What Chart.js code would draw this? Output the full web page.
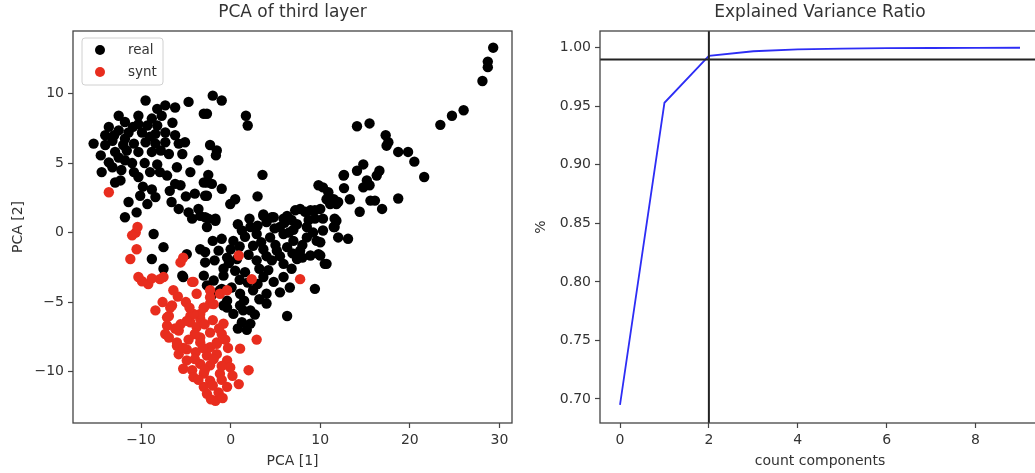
<!DOCTYPE html>
<html>
<head>
<meta charset="utf-8">
<script src="https://cdn.jsdelivr.net/npm/chart.js@4"></script>
<style>
  html, body { margin: 0; padding: 0; background: #fff; overflow: hidden; }
  #wrap { position: relative; width: 1035px; height: 473px; overflow: hidden; }
  canvas { position: absolute; top: 0; }
</style>
</head>
<body>
<div id="wrap">
  <canvas id="pcaCanvas" width="520" height="473" style="left:0"></canvas>
  <canvas id="varCanvas" width="530" height="473" style="left:520px"></canvas>
</div>
<script>
// ---------------------------------------------------------------
// data
// ---------------------------------------------------------------
var realPoints = [
  // right arm
  [29.3,13.3],[28.7,12.3],[28.7,11.9],[28.1,10.9],[26.0,8.8],[24.7,8.4],[23.4,7.75],[14.1,7.65],[15.5,7.85],
  [17.3,7.0],[17.6,6.5],[17.4,6.25],[18.7,5.8],[19.8,5.8],[20.5,5.1],[21.6,4.0],[18.7,2.45],[14.8,4.9],
  [14.1,4.45],[12.65,4.15],[16.6,4.45],[16.3,4.1],[15.2,3.75],[14.8,3.25],[15.5,3.4],[12.65,3.2],[13.3,2.4],
  [15.6,2.3],[16.1,2.3],[16.9,1.7],[14.4,1.5],[10.3,3.25],[10.9,2.9],[10.7,2.4],[11.5,2.4],[12.0,2.2],
  [10.3,1.0],[11.6,1.0],[11.6,0.4],[10.0,1.7],[9.8,3.4],[12.6,4.1],[11.1,2.05],[11.8,0.85],[12.0,-0.35],
  [13.1,-0.45],[10.0,-1.65],[10.7,-2.25],
  // upper middle
  [-2.0,9.85],[-1.0,9.5],[-2.65,8.55],[1.7,8.4],[1.9,7.7],[-2.3,6.3],[-1.55,5.9],[-1.65,5.55],[3.55,4.15],
  [-2.5,4.15],[-2.65,3.6],[-2.1,3.5],[-1.0,3.15],[3.0,2.6],[0.5,2.4],[-0.05,2.05],[-2.85,2.65],[-2.85,1.1],
  [-1.7,1.0],[3.65,1.3],[4.6,1.1],[7.2,1.6],[8.3,1.5],[9.4,1.6],[5.9,1.0],
  // upper left cluster
  [-9.5,9.5],[-8.2,8.9],[-7.3,9.15],[-6.2,9.0],[-4.7,9.4],[-3.0,8.55],[-12.5,8.4],[-10.3,8.4],[-8.8,8.2],
  [-7.7,8.4],[-11.8,7.95],[-10.3,7.8],[-8.2,7.7],[-13.6,7.6],[-12.5,7.35],[-11.4,7.2],[-9.9,7.2],[-8.4,7.1],
  [-7.3,7.2],[-6.2,7.0],[-14.0,7.0],[-15.3,6.4],[-13.2,6.6],[-11.8,6.75],[-10.8,6.4],[-9.5,6.5],[-8.4,6.4],
  [-7.3,6.5],[-5.8,6.4],[-5.1,6.5],[-14.5,5.55],[-12.9,5.8],[-11.6,5.9],[-10.3,5.8],[-8.8,5.8],[-6.9,5.65],
  [-5.4,5.65],[-13.6,5.05],[-12.5,5.4],[-11.8,5.2],[-14.4,4.35],[-13.2,4.7],[-10.8,4.35],[-10.3,4.0],
  [-9.0,4.35],[-7.9,4.35],[-7.1,4.1],[-6.2,3.5],[-4.5,4.35],[-3.6,5.2],[-3.0,3.6],[-5.6,3.4],[-12.9,3.6],
  [-12.3,3.75],[-11.4,2.2],[-10.1,2.65],[-9.3,2.05],[-8.4,2.55],[-11.8,1.1],[-10.5,1.45],[-6.6,2.2],
  [-5.8,1.7],[-4.7,1.45],[-3.6,1.7],[-2.65,2.65],[-4.3,1.0],[-2.5,1.0],
  [-13.0,7.0],[-12.0,6.3],[-10.9,7.6],[-9.3,7.7],[-9.0,6.9],[-7.8,5.9],[-6.5,7.9],[-11.0,5.0],[-9.6,5.0],
  [-8.2,4.9],[-6.0,4.7],[-14.0,6.3],[-12.2,4.5],[-6.8,3.0],[-5.0,2.6],[-4.0,2.8],[-9.8,3.3],[-8.8,3.1],
  // centre
  [-3.4,1.2],[-2.65,0.4],[-1.7,0.85],[3.65,1.2],[4.8,1.1],[6.3,1.2],[7.75,1.7],[8.9,1.6],[9.4,1.0],
  [10.9,2.4],[11.8,2.05],[7.4,0.6],[8.5,0.4],[10.3,0.15],[11.5,0.4],[5.5,0.4],[4.0,0.75],[1.25,0.15],
  [2.9,-0.1],[4.4,-0.35],[5.9,-0.1],[7.0,-0.6],[8.5,-0.35],[9.6,-0.6],[-1.0,-0.45],[0.3,-0.6],[2.5,-0.95],
  [3.65,-1.2],[5.15,-1.3],[6.3,-1.05],[7.75,-1.3],[8.9,-1.65],[9.8,-1.55],[10.5,-2.25],[-2.85,-1.4],
  [-1.35,-1.3],[-0.4,-1.8],[2.9,-2.0],[4.6,-2.0],[5.9,-2.25],[7.4,-1.9],[-0.8,-2.6],[0.5,-2.75],[1.6,-2.85],
  [3.65,-3.2],[4.8,-3.55],[5.9,-3.2],[9.4,-4.05],[-3.0,-3.1],[-1.9,-3.45],[0.1,-3.95],[1.05,-4.4],
  [2.5,-4.15],[4.0,-4.4],[5.5,-4.3],[6.6,-3.95],[-1.2,-4.15],[-0.4,-4.9],[1.05,-5.25],[2.2,-5.6],[4.0,-5.1],
  [6.3,-6.0],[0.3,-5.85],[1.25,-6.45],[2.2,-6.55],[-0.4,-5.4],[1.4,-5.6],[-0.8,-3.1],[-5.4,-3.1],
  [1.0,-1.0],[2.0,-1.6],[3.2,-2.6],[6.8,-2.6],[8.0,-0.9],[6.5,0.0],[3.0,0.5],[0.8,0.6],[2.1,1.0],
  [5.0,-0.9],[4.2,-2.7],[1.0,-3.4],
  [0.0,-1.2],[1.6,-0.3],[2.2,0.4],[3.4,-0.7],[4.9,0.3],[6.0,0.7],[7.0,0.2],[8.0,-1.8],[9.2,0.0],
  [10.0,-0.7],[6.9,-1.5],[5.5,-1.7],[4.0,-1.7],[3.0,-3.7],[1.9,-3.6],[0.7,-1.9],[-0.2,-2.2],[-1.8,-2.0],
  [-2.0,-0.6],[1.5,-4.9],[3.2,-4.8],[2.7,-5.9],[0.8,-6.9],[1.8,-7.0],[6.8,0.9],[8.7,0.9],
  // black points between the red ones
  [-8.6,-0.1],[-7.5,-1.05],[-8.8,-1.9],[-7.5,-2.6],[-5.3,-3.2],[-4.9,-1.55],[-3.4,-1.2],[-2.85,-2.15],
  [-2.65,-3.8],[-2.1,-4.5],[-1.0,-4.05],[-0.8,-5.25]
]

var syntPoints = [
  [-13.6,2.9],[-10.6,0.0],[-11.0,-0.2],[-10.5,-1.2],[-11.2,-1.9],[-5.6,-2.15],[-5.3,-1.8],[-10.3,-3.2],
  [-9.2,-3.7],[-7.9,-3.35],[-6.4,-4.15],[-4.3,-3.55],[-3.8,-4.4],[-8.4,-5.6],[-6.55,-5.25],[-6.9,-6.0],
  [-7.1,-6.7],[-7.3,-7.3],[-5.8,-7.05],[-4.5,-6.0],[-4.5,-6.45],[-3.4,-6.2],[-3.0,-5.4],[-2.3,-5.1],
  [-3.4,-5.85],[-6.0,-8.15],[-4.9,-8.4],[-2.3,-7.2],[-1.55,-7.9],[-3.4,-7.9],[-4.15,-3.55],[-2.3,-4.15],
  [-1.2,-4.4],[-0.4,-4.15],[-1.9,-5.15],[-4.15,-5.85],[-4.9,-6.35],[-6.75,-5.4],[-7.1,-6.1],[-6.9,-7.55],
  [-6.0,-7.9],[-5.8,-8.75],[-4.9,-9.2],[-5.3,-9.8],[-4.3,-9.9],[-4.15,-10.4],[-3.0,-10.15],[-3.4,-9.45],
  [-2.3,-9.55],[-2.65,-8.85],[-1.55,-8.75],[-2.3,-8.25],[-3.4,-7.55],[-1.0,-7.3],[-1.55,-8.0],[-0.4,-9.2],
  [-0.05,-9.7],[-1.2,-10.15],[-2.3,-10.65],[-3.0,-11.1],[-2.65,-11.6],[-1.7,-12.1],[-1.35,-11.5],
  [-0.4,-11.1],[0.9,-10.9],[2.0,-9.9],[1.05,-8.35],[2.9,-7.7],[-0.8,-6.55],[-7.5,-3.2],[0.9,-1.65],
  [2.35,-3.35],[7.75,-3.35],[-2.3,-4.65],[-3.0,-5.4],
  [-5.0,-5.0],[-4.6,-5.4],[-5.6,-6.6],[-6.2,-6.9],[-3.8,-6.8],[-2.9,-6.6],[-2.0,-6.3],[-4.0,-7.3],
  [-4.7,-7.7],[-5.3,-8.3],[-3.9,-8.6],[-3.1,-8.3],[-4.0,-9.1],[-1.9,-9.1],[-1.0,-9.6],[-2.9,-9.9],
  [-3.6,-10.6],[-2.0,-11.0],[-1.0,-10.6],[-0.9,-11.9],[-2.2,-12.0],[0.2,-10.3],[-0.3,-8.3],[-1.3,-6.9],
  [-9.9,-3.5],[-8.8,-3.3],[-10.4,0.4],[-5.9,-4.6],[-7.6,-5.0],[-0.6,-7.7]
]

var pcaXTicks = [-10, 0, 10, 20, 30]
var pcaYTicks = [-10, -5, 0, 5, 10]

var components = [0, 1, 2, 3, 4, 5, 6, 7, 8, 9]
var varianceRatio = [0.695, 0.953, 0.993, 0.997, 0.9986, 0.9993, 0.9996, 0.9998, 0.9999, 1.0]
var varXTicks = [0, 2, 4, 6, 8]
var varYTicks = [0.70, 0.75, 0.80, 0.85, 0.90, 0.95, 1.00]
var varThreshold = 0.99   // horizontal line
var chosenCount = 2       // vertical line

// axis limits (as matplotlib chose them)
var pcaXMin = -17.6, pcaXMax = 31.4, pcaYMin = -13.7, pcaYMax = 14.5
var varXMin = -0.45, varXMax = 9.45, varYMin = 0.6795, varYMax = 1.0143

// ---------------------------------------------------------------
// shared look
// ---------------------------------------------------------------
var fontFamily = "'DejaVu Sans', sans-serif"
var textColor = '#333'
var axisColor = '#444'

Chart.defaults.font.family = fontFamily
Chart.defaults.color = textColor

function minusLabel(v) {
    return v < 0 ? '\u2212' + Math.abs(v) : String(v)
}

// box around the plot area + title centred over it
var framePlugin = {
    id: 'frame',
    afterDraw(chart, args, opts) {
        var a = chart.chartArea
        var ctx = chart.ctx
        ctx.save()
        ctx.strokeStyle = axisColor
        ctx.lineWidth = 1.3
        ctx.strokeRect(a.left, a.top, a.right - a.left, a.bottom - a.top)
        ctx.fillStyle = textColor
        ctx.font = '17px ' + fontFamily
        ctx.textAlign = 'center'
        ctx.textBaseline = 'middle'
        ctx.fillText(opts.text, (a.left + a.right) / 2, 13)
        ctx.restore()
    }
}

// matplotlib style legend inside the upper left corner
var boxLegendPlugin = {
    id: 'boxLegend',
    afterDraw(chart) {
        var a = chart.chartArea
        var ctx = chart.ctx
        var x = a.left + 9, y = a.top + 7, w = 81, h = 47
        ctx.save()
        ctx.fillStyle = 'rgba(255,255,255,0.85)'
        ctx.strokeStyle = '#d0d0d0'
        ctx.lineWidth = 1
        ctx.beginPath()
        ctx.roundRect(x, y, w, h, 3)
        ctx.fill()
        ctx.stroke()
        ctx.font = '13.5px ' + fontFamily
        ctx.textBaseline = 'middle'
        chart.data.datasets.forEach((ds, i) => {
            var cy = y + 12 + i * 22
            ctx.fillStyle = ds.backgroundColor
            ctx.beginPath()
            ctx.arc(x + 18, cy, 5, 0, Math.PI * 2)
            ctx.fill()
            ctx.fillStyle = textColor
            ctx.fillText(ds.label, x + 46, cy)
        })
        ctx.restore()
    }
}

function axisOptions(min, max, ticks, title, fmt, size, titlePad) {
    return {
        type: 'linear',
        min: min,
        max: max,
        afterBuildTicks: s => { s.ticks = ticks.map(v => ({ value: v })) },
        afterFit: s => { if (s.isHorizontal()) s.height = size; else s.width = size },
        ticks: { font: { size: 14 }, color: textColor, padding: 4, callback: fmt, autoSkip: false, maxRotation: 0 },
        grid: { display: true, drawOnChartArea: false, drawTicks: true, tickLength: 5, tickColor: axisColor, tickWidth: 1.2 },
        border: { display: false },
        title: { display: true, text: title, font: { size: 14 }, color: textColor, padding: titlePad }
    }
}

// ---------------------------------------------------------------
// left: PCA scatter
// ---------------------------------------------------------------
new Chart(document.getElementById('pcaCanvas'), {
    type: 'scatter',
    data: {
        datasets: [
            {
                label: 'real',
                data: realPoints.map(p => ({ x: p[0], y: p[1] })),
                backgroundColor: '#000',
                borderWidth: 0,
                pointRadius: 5.2,
                order: 2
            },
            {
                label: 'synt',
                data: syntPoints.map(p => ({ x: p[0], y: p[1] })),
                backgroundColor: 'rgb(232,45,30)',
                borderWidth: 0,
                pointRadius: 5.2,
                order: 1
            }
        ]
    },
    options: {
        responsive: false,
        animation: false,
        layout: { padding: { top: 31, right: 8, left: 0, bottom: 0 } },
        plugins: { legend: { display: false }, tooltip: { enabled: false }, frame: { text: 'PCA of third layer' } },
        scales: {
            x: axisOptions(pcaXMin, pcaXMax, pcaXTicks, 'PCA [1]', minusLabel, 50, { top: 0, bottom: 3 }),
            y: axisOptions(pcaYMin, pcaYMax, pcaYTicks, 'PCA [2]', minusLabel, 73, { top: 10, bottom: 0 })
        }
    },
    plugins: [framePlugin, boxLegendPlugin]
})

// ---------------------------------------------------------------
// right: cumulative explained variance
// ---------------------------------------------------------------
new Chart(document.getElementById('varCanvas'), {
    type: 'scatter',
    data: {
        datasets: [
            {
                label: 'ratio',
                data: components.map((c, i) => ({ x: c, y: varianceRatio[i] })),
                showLine: true,
                borderColor: 'rgb(45,45,245)',
                borderWidth: 1.8,
                pointRadius: 0,
                order: 2
            },
            {
                label: 'threshold',
                data: [{ x: varXMin, y: varThreshold }, { x: varXMax, y: varThreshold }],
                showLine: true,
                borderColor: '#222',
                borderWidth: 2,
                pointRadius: 0,
                order: 1
            },
            {
                label: 'count',
                data: [{ x: chosenCount, y: varYMin }, { x: chosenCount, y: varYMax }],
                showLine: true,
                borderColor: '#222',
                borderWidth: 2,
                pointRadius: 0,
                order: 1
            }
        ]
    },
    options: {
        responsive: false,
        animation: false,
        layout: { padding: { top: 31, right: 10, left: 0, bottom: 0 } },
        plugins: { legend: { display: false }, tooltip: { enabled: false }, frame: { text: 'Explained Variance Ratio' } },
        scales: {
            x: axisOptions(varXMin, varXMax, varXTicks, 'count components', v => String(v), 50, { top: 0, bottom: 3 }),
            y: axisOptions(varYMin, varYMax, varYTicks, '%', v => v.toFixed(2), 80, { top: 13, bottom: 0 })
        }
    },
    plugins: [framePlugin]
})
</script>
</body>
</html>
